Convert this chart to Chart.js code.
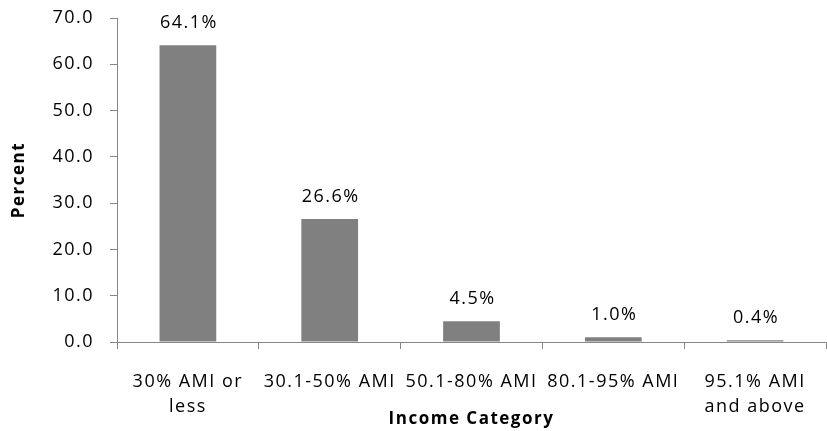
<!DOCTYPE html>
<html>
<head>
<meta charset="utf-8">
<script src="https://cdn.jsdelivr.net/npm/chart.js@4.4.0/dist/chart.umd.min.js"></script>
<style>
  html, body { margin: 0; padding: 0; background: #fff; }
  #wrap { width: 827px; height: 431px; }
</style>
</head>
<body>
<div id="wrap"><canvas id="chart"></canvas></div>
<script>
// Chart data
const categories = [['30% AMI or', 'less'], '30.1-50% AMI', '50.1-80% AMI', '80.1-95% AMI', ['95.1% AMI', 'and above']];
const percents = [64.1, 26.6, 4.5, 1.0, 0.4];
const yMin = 0;
const yMax = 70;
const yStep = 10;

const AXIS_GRAY = '#868686';
const FONT = '"Open Sans", sans-serif';
const SPACING = '1.5px';

// Wider letter spacing like the original rendering
const spacing = {
    id: 'spacing',
    beforeLayout(chart) { chart.ctx.letterSpacing = SPACING; },
    beforeDraw(chart) { chart.ctx.letterSpacing = SPACING; }
};

// Value labels above each bar
const valueLabels = {
    id: 'valueLabels',
    afterDatasetsDraw(chart) {
        const ctx = chart.ctx;
        const meta = chart.getDatasetMeta(0);
        ctx.save();
        ctx.letterSpacing = SPACING;
        ctx.font = '18px ' + FONT;
        ctx.fillStyle = '#000';
        ctx.textAlign = 'center';
        ctx.textBaseline = 'middle';
        meta.data.forEach((bar, i) => {
            ctx.fillText(percents[i].toFixed(1) + '%', bar.x + 1, bar.y - 22);
        });
        ctx.restore();
    }
};

const ctx = document.getElementById('chart').getContext('2d');
new Chart(ctx, {
    type: 'bar',
    data: {
        labels: categories,
        datasets: [{
            data: percents,
            backgroundColor: '#808080',
            borderWidth: 0,
            barPercentage: 0.4,
            categoryPercentage: 1.0
        }]
    },
    options: {
        responsive: true,
        maintainAspectRatio: false,
        animation: false,
        layout: { padding: { top: 18, right: 1, bottom: 0, left: 0 } },
        plugins: {
            legend: { display: false },
            tooltip: { enabled: false }
        },
        scales: {
            x: {
                grid: { display: true, drawOnChartArea: false, drawTicks: true, tickLength: 7, color: AXIS_GRAY },
                border: { display: true, color: AXIS_GRAY, width: 1 },
                ticks: { color: '#000', font: { family: FONT, size: 18, lineHeight: 1.35 }, padding: 21, maxRotation: 0, autoSkip: false },
                title: { display: true, text: 'Income Category', color: '#000', font: { family: FONT, size: 17, weight: 'bold' }, padding: { top: 0, bottom: 2 } },
                afterFit(scale) {
                    scale.height = 431 - 342;
                    scale.paddingLeft = 0;
                    scale.paddingRight = 0;
                }
            },
            y: {
                min: yMin,
                max: yMax,
                grid: { display: true, drawOnChartArea: false, drawTicks: true, tickLength: 7, color: AXIS_GRAY },
                border: { display: true, color: AXIS_GRAY, width: 1 },
                ticks: {
                    stepSize: yStep,
                    color: '#000',
                    font: { family: FONT, size: 18 },
                    padding: 16,
                    callback: v => Number(v).toFixed(1)
                },
                title: { display: true, text: 'Percent', color: '#000', font: { family: FONT, size: 17, weight: 'bold' }, padding: { top: 9, bottom: 0 } },
                afterFit(scale) {
                    scale.width = 117;
                    scale.paddingTop = 0;
                    scale.paddingBottom = 0;
                }
            }
        }
    },
    plugins: [spacing, valueLabels]
});
</script>
</body>
</html>
